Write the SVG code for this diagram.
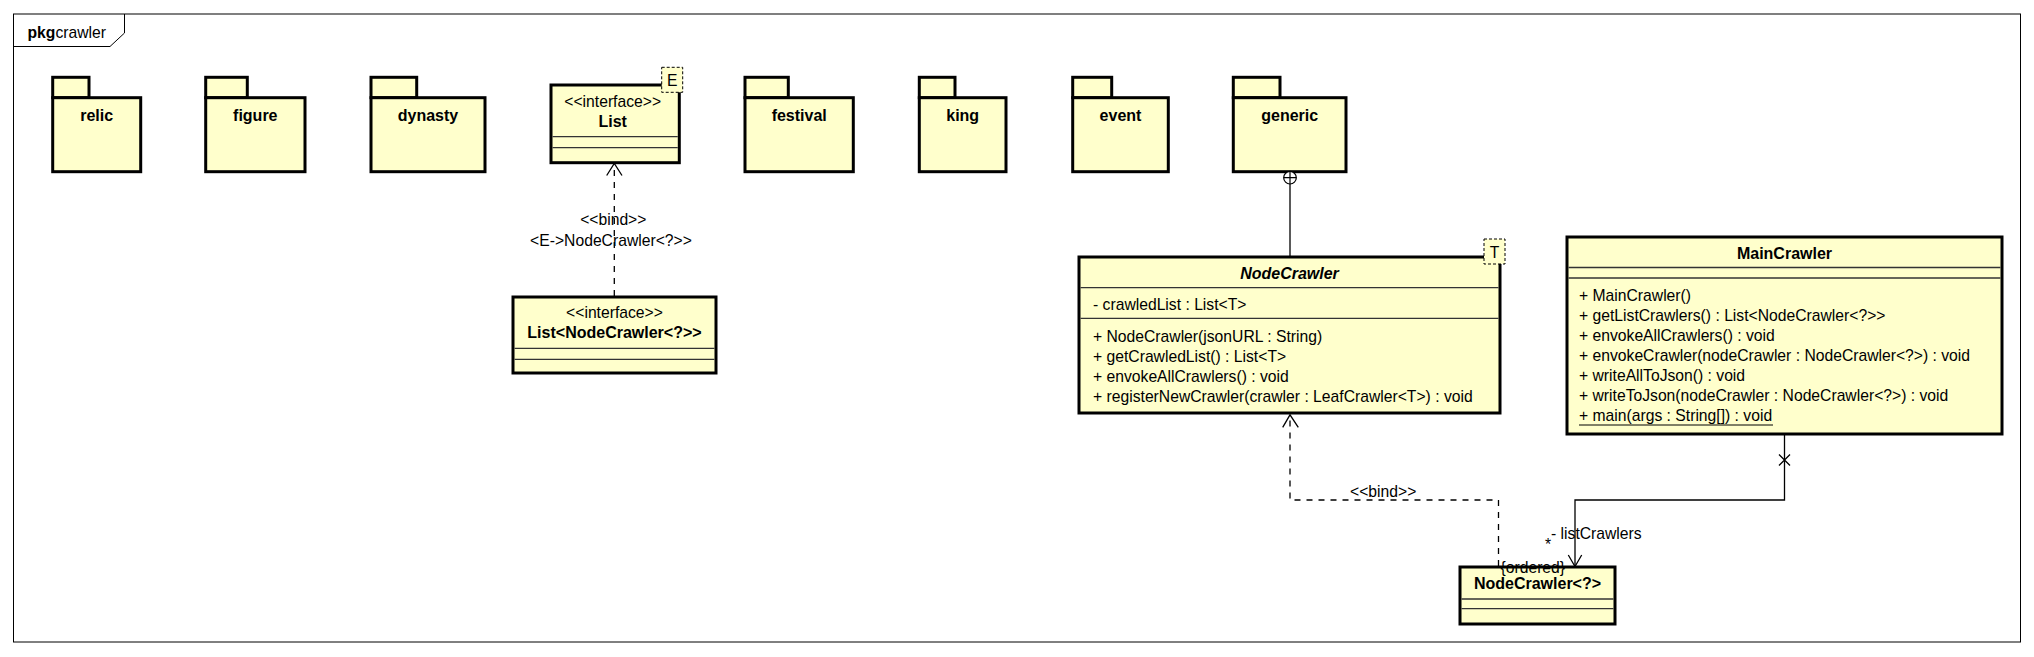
<svg xmlns="http://www.w3.org/2000/svg" width="2034" height="657" viewBox="0 0 2034 657">
<style>
.box{fill:#FFFFCC;stroke:#000;stroke-width:3}
.sep{stroke:#333;stroke-width:1.3;fill:none}
.tpl{fill:#FFFFCC;stroke:#000;stroke-width:1;stroke-dasharray:3,2}
.t{font-family:"Liberation Sans",Arial,sans-serif;font-size:15.7px;fill:#000}
.b{font-weight:bold;font-size:16px}
.i{font-style:italic}
.c{text-anchor:middle}
.ln{fill:none;stroke:#000;stroke-width:1.3}
.dash{stroke-dasharray:6,6}
</style>
<rect width="2034" height="657" fill="#fff"/>
<g id="frame">
<rect x="13.5" y="14" width="2007" height="628" fill="none" stroke="#000" stroke-width="1"/>
<path d="M13.5,46.5 H110 L124.5,33 V14" fill="none" stroke="#000" stroke-width="1"/>
<text class="t" x="27.5" y="37.5"><tspan font-weight="bold">pkg</tspan>crawler</text>
</g>
<g id="relic">
<rect class="box" x="52.7" y="77.3" width="36.3" height="20.4"/>
<rect class="box" x="52.7" y="97.7" width="88" height="74"/>
<text class="t b c" x="96.7" y="120.7">relic</text>
</g>
<g id="figure">
<rect class="box" x="205.7" y="77.3" width="41.6" height="20.4"/>
<rect class="box" x="205.7" y="97.7" width="99.3" height="74"/>
<text class="t b c" x="255.3" y="120.7">figure</text>
</g>
<g id="dynasty">
<rect class="box" x="371" y="77.3" width="45.7" height="20.4"/>
<rect class="box" x="371" y="97.7" width="114" height="74"/>
<text class="t b c" x="428" y="120.7">dynasty</text>
</g>
<g id="List">
<rect class="box" x="551" y="85" width="128.3" height="77.7"/>
<line class="sep" x1="552.5" y1="136.7" x2="677.8" y2="136.7"/>
<line class="sep" x1="552.5" y1="147.7" x2="677.8" y2="147.7"/>
<text class="t c" x="612.7" y="107.3">&lt;&lt;interface&gt;&gt;</text>
<text class="t b c" x="612.7" y="127.3">List</text>
<rect class="tpl" x="661.7" y="67.3" width="21" height="25"/>
<text class="t c" x="672.2" y="85.5">E</text>
</g>
<g id="festival">
<rect class="box" x="745" y="77.3" width="43.3" height="20.4"/>
<rect class="box" x="745" y="97.7" width="108.3" height="74"/>
<text class="t b c" x="799.2" y="120.7">festival</text>
</g>
<g id="king">
<rect class="box" x="919.3" y="77.3" width="35.7" height="20.4"/>
<rect class="box" x="919.3" y="97.7" width="86.7" height="74"/>
<text class="t b c" x="962.7" y="120.7">king</text>
</g>
<g id="event">
<rect class="box" x="1072.7" y="77.3" width="39" height="20.4"/>
<rect class="box" x="1072.7" y="97.7" width="95.6" height="74"/>
<text class="t b c" x="1120.5" y="120.7">event</text>
</g>
<g id="generic">
<rect class="box" x="1233.3" y="77.3" width="46.7" height="20.4"/>
<rect class="box" x="1233.3" y="97.7" width="112.7" height="74"/>
<text class="t b c" x="1289.7" y="120.7">generic</text>
</g>
<g id="ListNodeCrawler">
<rect class="box" x="513" y="297" width="203" height="76"/>
<line class="sep" x1="514.5" y1="348.3" x2="714.5" y2="348.3"/>
<line class="sep" x1="514.5" y1="359.3" x2="714.5" y2="359.3"/>
<text class="t c" x="614.5" y="318.3">&lt;&lt;interface&gt;&gt;</text>
<text class="t b c" x="614.5" y="338.3">List&lt;NodeCrawler&lt;?&gt;&gt;</text>
</g>
<g id="NodeCrawler">
<rect class="box" x="1079" y="257" width="421" height="156"/>
<line class="sep" x1="1080.5" y1="287.7" x2="1498.5" y2="287.7"/>
<line class="sep" x1="1080.5" y1="318.3" x2="1498.5" y2="318.3"/>
<text class="t b i c" x="1289.5" y="279">NodeCrawler</text>
<text class="t" x="1093" y="310">- crawledList : List&lt;T&gt;</text>
<text class="t" x="1093" y="341.7">+ NodeCrawler(jsonURL : String)</text>
<text class="t" x="1093" y="361.7">+ getCrawledList() : List&lt;T&gt;</text>
<text class="t" x="1093" y="381.7">+ envokeAllCrawlers() : void</text>
<text class="t" x="1093" y="401.7">+ registerNewCrawler(crawler : LeafCrawler&lt;T&gt;) : void</text>
<rect class="tpl" x="1484" y="239" width="21" height="25"/>
<text class="t c" x="1494.5" y="257.5">T</text>
</g>
<g id="MainCrawler">
<rect class="box" x="1567" y="237" width="435" height="197"/>
<line class="sep" x1="1568.5" y1="267.5" x2="2000.5" y2="267.5"/>
<line class="sep" x1="1568.5" y1="278" x2="2000.5" y2="278"/>
<text class="t b c" x="1784.5" y="258.5">MainCrawler</text>
<text class="t" x="1579" y="301">+ MainCrawler()</text>
<text class="t" x="1579" y="321">+ getListCrawlers() : List&lt;NodeCrawler&lt;?&gt;&gt;</text>
<text class="t" x="1579" y="341">+ envokeAllCrawlers() : void</text>
<text class="t" x="1579" y="361">+ envokeCrawler(nodeCrawler : NodeCrawler&lt;?&gt;) : void</text>
<text class="t" x="1579" y="381">+ writeAllToJson() : void</text>
<text class="t" x="1579" y="401">+ writeToJson(nodeCrawler : NodeCrawler&lt;?&gt;) : void</text>
<text class="t" x="1579" y="421">+ main(args : String[]) : void</text>
<line x1="1579" y1="425" x2="1773" y2="425" stroke="#000" stroke-width="1"/>
</g>
<g id="NodeCrawlerQ">
<rect class="box" x="1460" y="567" width="155" height="57"/>
<line class="sep" x1="1461.5" y1="599" x2="1613.5" y2="599"/>
<line class="sep" x1="1461.5" y1="608.7" x2="1613.5" y2="608.7"/>
<text class="t b c" x="1537.5" y="589.3">NodeCrawler&lt;?&gt;</text>
</g>
<g id="connectors">
<line class="ln" x1="1290" y1="184" x2="1290" y2="256"/>
<circle cx="1290" cy="177.7" r="6.3" fill="#fff" stroke="#000" stroke-width="1.2"/>
<path d="M1283.7,177.7 H1296.3 M1290,171.4 V184" stroke="#000" stroke-width="1.2"/>
<path class="ln dash" d="M614.3,296 V165"/>
<path class="ln" d="M606.7,175.5 L614.3,163.5 L622,175.5"/>
<text class="t c" x="613.3" y="225">&lt;&lt;bind&gt;&gt;</text>
<text class="t c" x="611" y="246">&lt;E-&gt;NodeCrawler&lt;?&gt;&gt;</text>
<path class="ln dash" d="M1498.5,566 V500 H1290 V416"/>
<path class="ln" d="M1282.7,427.3 L1290,414.8 L1298.3,427.3"/>
<text class="t" x="1350" y="496.7">&lt;&lt;bind&gt;&gt;</text>
<path class="ln" d="M1784.5,435 V500 H1575 V566"/>
<path class="ln" d="M1568.3,555 L1575,566.5 L1581.7,555"/>
<path class="ln" d="M1779,454.5 L1790,465.5 M1790,454.5 L1779,465.5"/>
<text class="t" x="1545" y="550">*</text>
<text class="t" x="1551" y="538.5">- listCrawlers</text>
<text class="t" x="1500.5" y="573.3">{ordered}</text>
</g>
</svg>
